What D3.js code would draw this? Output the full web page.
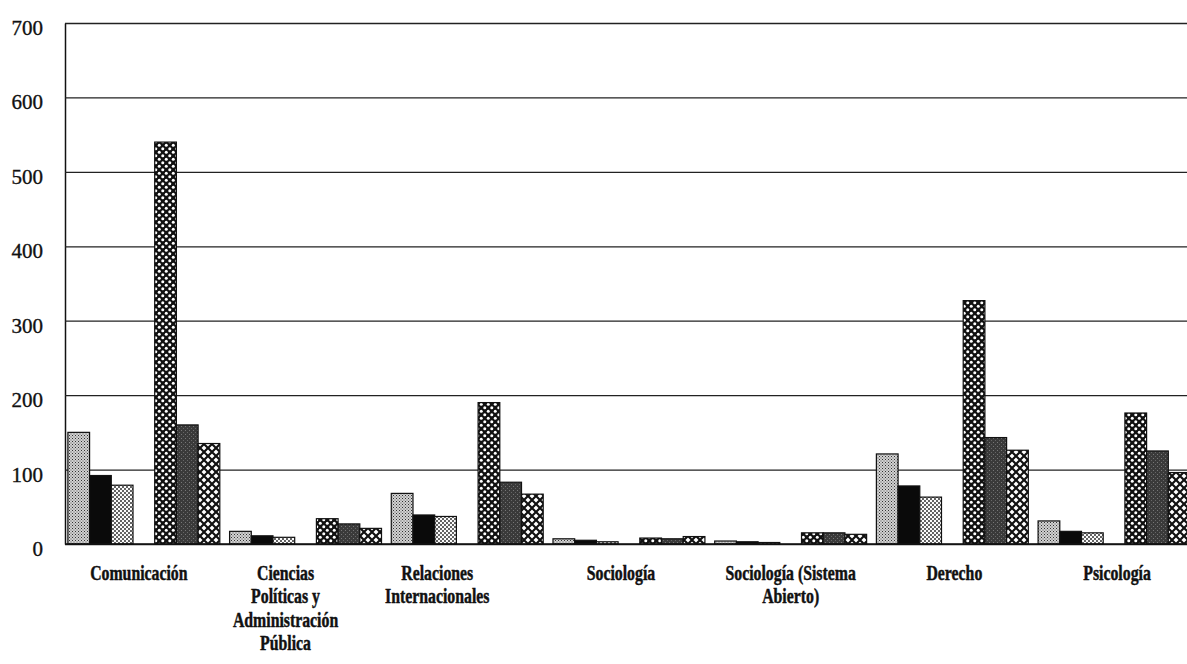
<!DOCTYPE html>
<html>
  <head>
    <meta charset="utf-8">
    <title>Alumnos por carrera</title>
    <script src="https://d3js.org/d3.v7.min.js"></script>
    <style>
      body { margin: 0; background: #fff; }
      .tick text { font-family: "Liberation Serif", "Times New Roman", serif; font-size: 21px; fill: #111; stroke: #111; stroke-width: 0.35px; }
      .catLabel { font-family: "Liberation Serif", "Times New Roman", serif; font-size: 20px; font-weight: bold; fill: #111; stroke: #111; stroke-width: 0.45px; }
    </style>
  </head>
  <body>
    <script>
      var width = 1187;
      var height = 664;

      // categorias (cada una con sus lineas de texto)
      var categories = ["Comunicación", "Ciencias Políticas y Administración Pública", "Relaciones Internacionales",
        "Sociología", "Sociología (Sistema Abierto)", "Derecho", "Psicología"];
      var categoryLines = [
        ["Comunicación"],
        ["Ciencias", "Políticas y", "Administración", "Pública"],
        ["Relaciones", "Internacionales"],
        ["Sociología"],
        ["Sociología (Sistema", "Abierto)"],
        ["Derecho"],
        ["Psicología"]
      ];

      // series (la cuarta posicion del grupo queda vacia en el original)
      var slots = ["s1", "s2", "s3", "gap", "s4", "s5", "s6"];
      var serie1 = [150, 17, 68, 7, 4, 121, 31];
      var serie2 = [92, 11, 39, 5, 3, 78, 17];
      var serie3 = [79, 9, 37, 3, 2, 63, 15];
      var serie4 = [540, 34, 190, 8, 15, 327, 176];
      var serie5 = [160, 27, 83, 7, 15, 143, 125];
      var serie6 = [135, 21, 67, 10, 13, 126, 96];

      var yTicks = [0, 100, 200, 300, 400, 500, 600, 700];

      var seriesValues = {s1: serie1, s2: serie2, s3: serie3, s4: serie4, s5: serie5, s6: serie6};

      var svg = d3.select("body")
        .append("svg")
        .attr("width", width)
        .attr("height", height);

      // patrones de relleno
      var defs = svg.append("defs");

      var p1 = defs.append("pattern").attr("id", "pat1").attr("patternUnits", "userSpaceOnUse")
        .attr("width", 3).attr("height", 3);
      p1.append("rect").attr("width", 3).attr("height", 3).attr("fill", "#d2d2d2");
      p1.append("rect").attr("x", 0).attr("y", 0).attr("width", 1).attr("height", 1).attr("fill", "#333");
      p1.append("rect").attr("x", 1.5).attr("y", 1.5).attr("width", 1).attr("height", 1).attr("fill", "#555");

      var p3 = defs.append("pattern").attr("id", "pat3").attr("patternUnits", "userSpaceOnUse")
        .attr("width", 4).attr("height", 4);
      p3.append("rect").attr("width", 4).attr("height", 4).attr("fill", "#fafafa");
      p3.append("circle").attr("cx", 1).attr("cy", 1).attr("r", 0.95).attr("fill", "#222");
      p3.append("circle").attr("cx", 3).attr("cy", 3).attr("r", 0.95).attr("fill", "#222");

      var p4 = defs.append("pattern").attr("id", "pat4").attr("patternUnits", "userSpaceOnUse")
        .attr("width", 7).attr("height", 7);
      p4.append("rect").attr("width", 7).attr("height", 7).attr("fill", "#111");
      p4.append("circle").attr("cx", 1.75).attr("cy", 1.75).attr("r", 1.5).attr("fill", "#fff");
      p4.append("circle").attr("cx", 5.25).attr("cy", 5.25).attr("r", 1.5).attr("fill", "#fff");

      var p5 = defs.append("pattern").attr("id", "pat5").attr("patternUnits", "userSpaceOnUse")
        .attr("width", 4).attr("height", 4);
      p5.append("rect").attr("width", 4).attr("height", 4).attr("fill", "#3a3a3a");
      p5.append("rect").attr("x", 1).attr("y", 2).attr("width", 1).attr("height", 1).attr("fill", "#777");
      p5.append("rect").attr("x", 3).attr("y", 0).attr("width", 1).attr("height", 1).attr("fill", "#666");

      var p6 = defs.append("pattern").attr("id", "pat6").attr("patternUnits", "userSpaceOnUse")
        .attr("width", 8).attr("height", 8);
      p6.append("rect").attr("width", 8).attr("height", 8).attr("fill", "#fff");
      p6.append("path").attr("d", "M-1,-1 L9,9 M9,-1 L-1,9").attr("stroke", "#111").attr("stroke-width", 2.2);

      var fills = {s1: "url(#pat1)", s2: "#0a0a0a", s3: "url(#pat3)", s4: "url(#pat4)", s5: "url(#pat5)", s6: "url(#pat6)"};

      // escalas
      var plotLeft = 65;
      var step = 161.7;

      var xScale = d3.scaleBand()
        .domain(categories)
        .range([63, 63 + step * categories.length])
        .padding(0);

      var xSub = d3.scaleBand()
        .domain(slots)
        .range([0, xScale.bandwidth()])
        .paddingInner(0)
        .paddingOuter(0.225);

      var yScale = d3.scaleLinear()
        .domain([0, 700])
        .range([544, 23]);

      // eje y con lineas de cuadricula
      var yAxis = svg.append("g")
        .attr("transform", `translate(${plotLeft},0)`)
        .call(d3.axisLeft(yScale).tickValues(yTicks).tickSize(-(width - plotLeft)).tickSizeOuter(0).tickPadding(22));
      yAxis.select(".domain").attr("stroke", "#111").attr("stroke-width", 1.5);
      yAxis.selectAll(".tick line").attr("stroke", "#222").attr("stroke-width", 1.3);
      yAxis.selectAll(".tick text").attr("dy", "0.55em");

      // barras
      var rows = [];
      categories.forEach(function(c, i) {
        slots.forEach(function(s) {
          if (s !== "gap") rows.push({cat: c, slot: s, value: seriesValues[s][i]});
        });
      });

      svg.append("g").selectAll("rect")
        .data(rows)
        .enter()
        .append("rect")
          .attr("x", function(d) { return xScale(d.cat) + xSub(d.slot); })
          .attr("y", function(d) { return yScale(d.value); })
          .attr("width", xSub.bandwidth())
          .attr("height", function(d) { return yScale(0) - yScale(d.value); })
          .attr("fill", function(d) { return fills[d.slot]; })
          .attr("stroke", "#111")
          .attr("stroke-width", 1.2);

      // linea base
      svg.append("line")
        .attr("x1", plotLeft).attr("x2", width)
        .attr("y1", yScale(0)).attr("y2", yScale(0))
        .attr("stroke", "#111").attr("stroke-width", 1.6);

      // etiquetas de categoria (texto condensado, como en el original)
      var labelNudge = [-5, -20, -30, -8, 0, 2, 3];
      var labels = svg.append("g").selectAll("g")
        .data(categories)
        .enter()
        .append("g")
          .attr("transform", function(d, i) {
            return `translate(${xScale(d) + xScale.bandwidth() / 2 + labelNudge[i]},580) scale(0.79,1)`;
          });

      labels.append("text")
        .attr("class", "catLabel")
        .attr("text-anchor", "middle")
        .selectAll("tspan")
        .data(function(d, i) { return categoryLines[i]; })
        .enter()
        .append("tspan")
          .attr("x", 0)
          .attr("y", function(d, j) { return j * 23.3; })
          .text(function(d) { return d; });
    </script>
  </body>
</html>
